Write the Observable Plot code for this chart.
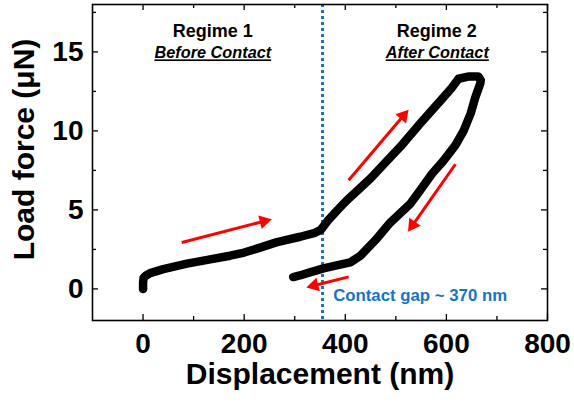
<!DOCTYPE html>
<html>
<head>
<meta charset="utf-8">
<script src="https://cdn.jsdelivr.net/npm/d3@7"></script>
<script src="https://cdn.jsdelivr.net/npm/@observablehq/plot@0.6"></script>
<style>
  html, body { margin: 0; padding: 0; background: #fff; }
  #chart { width: 574px; height: 407px; }
</style>
</head>
<body>
<div id="chart"></div>
<script>
// ---- data ----
const loadDisp  = [0, 0, 1, 6, 14, 40, 87, 130, 172, 200, 230, 265, 311, 340, 352, 365, 385, 403, 425, 450, 475, 509, 549, 588, 610, 624, 645, 663, 668];
const loadForce = [0, 0.4, 0.7, 0.85, 1.0, 1.25, 1.6, 1.85, 2.1, 2.3, 2.6, 2.96, 3.3, 3.55, 3.75, 4.3, 5.0, 5.6, 6.25, 7.0, 7.85, 9.0, 10.5, 11.9, 12.7, 13.3, 13.45, 13.45, 13.2];
const unloadDisp  = [667, 657, 648, 634, 618, 594, 572, 545, 529, 489, 460, 430, 410, 385, 357, 330, 310, 297];
const unloadForce = [13.0, 12.1, 11.1, 10.0, 9.1, 8.1, 7.3, 6.1, 5.4, 4.2, 3.1, 2.1, 1.68, 1.5, 1.3, 1.05, 0.85, 0.75];

const xTicks = [0, 200, 400, 600, 800];
const xMinorTicks = [100, 300, 500, 700];
const yTicks = [0, 5, 10, 15];
const yMinorTicks = [2.5, 7.5, 12.5, 17.5];

const contactGap = 355;

const arrowTailX = [76.6, 406.6, 617.8, 406.6];
const arrowTailY = [2.94, 6.88, 7.89, 0.76];
const arrowTipX  = [254.8, 525.4, 524.0, 322.8];
const arrowTipY  = [4.41, 11.35, 3.61, 0.09];

const labelTexts = ["Regime 1", "Before Contact", "Regime 2", "After Contact"];
const labelX = [138, 138, 581, 582];
const labelY = [16.31, 14.92, 16.31, 14.92];

const gapText = "Contact gap ~ 370 nm";
const gapTextX = 376;
const gapTextY = -0.43;

// ---- layout ----
const W = 574, H = 407, mL = 92, mR = 27, mT = 4, mB = 87;
const xDomain = [-100, 800], yDomain = [-2, 18];
const frameW = W - mL - mR, frameH = H - mT - mB;
const BLUE = "#1874c8";
const FONT = "'Liberation Sans', Arial, Helvetica, sans-serif";

const curve = [
  ...loadDisp.map((d, i) => ({x: d, y: loadForce[i]})),
  ...unloadDisp.map((d, i) => ({x: d, y: unloadForce[i]}))
];

// arrows: shaft + filled triangular head, using the library's scales
const sx = Plot.scale({x: {domain: xDomain, range: [mL, W - mR]}});
const sy = Plot.scale({y: {domain: yDomain, range: [H - mB, mT]}});
const headR = 5.2, headBack = 8.2;
const arrows = arrowTailX.map((_, i) => {
  const p1 = [sx.apply(arrowTailX[i]), sy.apply(arrowTailY[i])];
  const p2 = [sx.apply(arrowTipX[i]), sy.apply(arrowTipY[i])];
  const dx = p2[0] - p1[0], dy = p2[1] - p1[1];
  const len = Math.hypot(dx, dy);
  const ux = dx / len, uy = dy / len;
  const cx = p2[0] - ux * headBack, cy = p2[1] - uy * headBack;
  return {
    x1: arrowTailX[i], y1: arrowTailY[i],
    hx: sx.invert(cx), hy: sy.invert(cy),
    angle: Math.atan2(ux, -uy) * 180 / Math.PI
  };
});

const labels = labelTexts.map((t, i) => ({t, x: labelX[i], y: labelY[i], big: i % 2 === 0}));

const chart = Plot.plot({
  width: W, height: H,
  marginLeft: mL, marginRight: mR, marginTop: mT, marginBottom: mB,
  x: {domain: xDomain},
  y: {domain: yDomain},
  style: {fontFamily: FONT, background: "#fff", color: "#000"},
  marks: [
    // axis labels (ticks drawn separately, pointing inward)
    Plot.axisX({ticks: xTicks, tickSize: 0, tickPadding: 13, fontSize: 28, fontWeight: "bold", label: null, tickFormat: d3.format("d")}),
    Plot.axisY({ticks: yTicks, tickSize: 0, tickPadding: 9, fontSize: 28, fontWeight: "bold", label: null}),
    // inward ticks on all four sides
    Plot.tickX(xTicks, {x: d => d, insetTop: frameH - 6, stroke: "#000", strokeWidth: 1.3}),
    Plot.tickX(xTicks, {x: d => d, insetBottom: frameH - 6, stroke: "#000", strokeWidth: 1.3}),
    Plot.tickX(xMinorTicks, {x: d => d, insetTop: frameH - 4, stroke: "#000", strokeWidth: 1.3}),
    Plot.tickX(xMinorTicks, {x: d => d, insetBottom: frameH - 4, stroke: "#000", strokeWidth: 1.3}),
    Plot.tickY(yTicks, {y: d => d, insetRight: frameW - 6, stroke: "#000", strokeWidth: 1.3}),
    Plot.tickY(yTicks, {y: d => d, insetLeft: frameW - 6, stroke: "#000", strokeWidth: 1.3}),
    Plot.tickY(yMinorTicks, {y: d => d, insetRight: frameW - 4, stroke: "#000", strokeWidth: 1.3}),
    Plot.tickY(yMinorTicks, {y: d => d, insetLeft: frameW - 4, stroke: "#000", strokeWidth: 1.3}),
    // axis titles
    Plot.text(["Displacement (nm)"], {frameAnchor: "bottom", dy: 63, text: d => d, fontSize: 30, fontWeight: "bold", fill: "#000"}),
    Plot.text(["Load force (\u03bcN)"], {frameAnchor: "left", textAnchor: "middle", dx: -68, dy: -13, rotate: -90, text: d => d, fontSize: 30, fontWeight: "bold", fill: "#000"}),
    // contact gap line
    Plot.ruleX([contactGap], {stroke: BLUE, strokeWidth: 3, strokeDasharray: "3,3"}),
    // data curve
    Plot.line(curve, {x: "x", y: "y", stroke: "#000", strokeWidth: 8.5, strokeLinejoin: "round", strokeLinecap: "round"}),
    // arrows
    Plot.link(arrows, {x1: "x1", y1: "y1", x2: "hx", y2: "hy", stroke: "#ff0000", strokeWidth: 3}),
    Plot.dot(arrows, {x: "hx", y: "hy", symbol: "triangle", r: headR, rotate: "angle", fill: "#ff0000", stroke: "none"}),
    // annotations
    Plot.text(labels.filter(d => d.big), {x: "x", y: "y", text: "t", fontSize: 18, fontWeight: "bold", fill: "#000"}),
    Plot.text(labels.filter(d => !d.big), {x: "x", y: "y", text: "t", fontSize: 16.3, fontWeight: "bold", fontStyle: "italic", fill: "#000"}),
    Plot.text([gapText], {x: () => gapTextX, y: () => gapTextY, text: d => d, textAnchor: "start", fontSize: 16.8, fontWeight: "bold", fill: BLUE}),
    Plot.frame({stroke: "#000", strokeWidth: 1.6})
  ]
});

d3.select(chart).selectAll("text")
  .filter(function() { const t = this.textContent; return t === "Before Contact" || t === "After Contact"; })
  .style("text-decoration", "underline");

document.getElementById("chart").appendChild(chart);
</script>
</body>
</html>
